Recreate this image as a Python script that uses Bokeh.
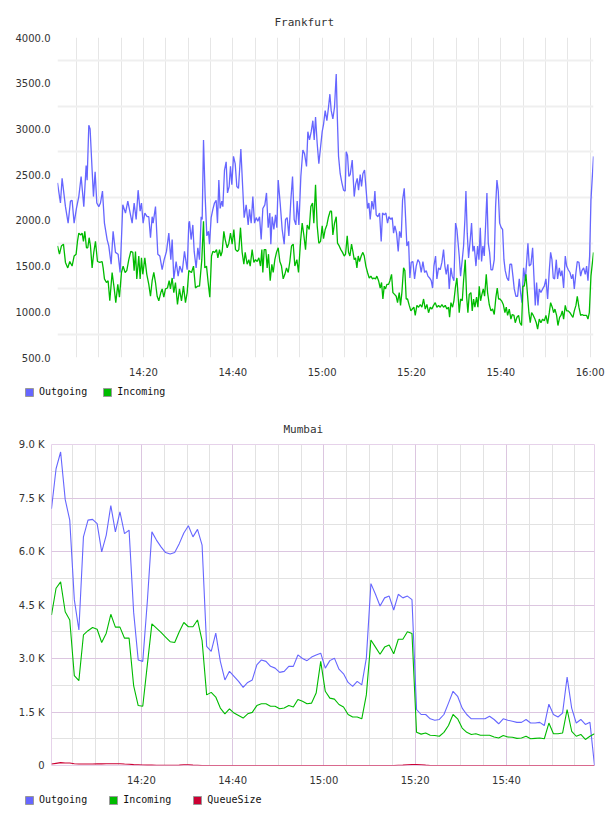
from datetime import datetime
from bokeh.plotting import figure
from bokeh.layouts import column
from bokeh.models import (FixedTicker, DatetimeTickFormatter, NumeralTickFormatter,
                          Legend, LegendItem, Range1d)
from bokeh.embed import file_html
from bokeh.resources import INLINE

# ---------------- time base (minutes after 14:00) ----------------
BASE_MS = (datetime(2013, 6, 3, 14, 0) - datetime(1970, 1, 1)).total_seconds() * 1000.0


def ms(minutes):
    return BASE_MS + minutes * 60000.0


# ---------------- Frankfurt data ----------------
fra_out_min = [0.75, 1.41, 1.78, 2.53, 3.13, 3.65, 4.02, 4.47, 4.99, 5.52, 6.04, 6.64, 7.16, 7.38, 7.76, 8.05, 8.50, 8.80, 9.17, 9.55,
               9.99, 10.37, 10.82, 11.26, 11.86, 12.23, 12.76, 13.20, 13.73, 14.32, 14.77, 15.37, 15.97, 16.49, 17.46, 17.91, 18.36, 18.80, 19.25, 19.55,
               19.92, 20.30, 20.82, 21.19, 21.57, 21.94, 22.16, 22.69, 23.21, 23.66, 24.18, 24.63, 25.15, 25.67, 26.12, 26.42, 26.79, 27.31, 27.76, 28.13,
               28.66, 29.18, 29.78, 30.15, 30.30, 30.67, 31.05, 31.35, 31.79, 32.17, 32.54, 32.91, 33.14, 33.44, 33.81, 34.18, 34.55, 34.78, 35.15, 35.53,
               35.90, 36.27, 36.57, 36.87, 37.17, 37.54, 37.77, 38.14, 38.51, 38.81, 39.18, 39.48, 39.78, 40.15, 40.53, 40.90, 41.27, 41.80, 42.24, 42.54,
               42.99, 43.44, 43.74, 44.11, 44.48, 44.86, 45.23, 45.60, 45.98, 46.35, 46.72, 47.17, 47.54, 47.92, 48.29, 48.51, 48.81, 49.19, 49.56, 49.86,
               50.16, 50.60, 51.05, 51.50, 51.80, 52.17, 52.55, 52.99, 53.37, 53.74, 54.11, 54.41, 54.79, 55.23, 55.68, 56.05, 56.50, 56.80, 57.17, 57.55,
               57.92, 58.22, 58.52, 58.89, 59.26, 59.64, 60.01, 60.31, 60.68, 61.06, 61.43, 61.73, 62.03, 62.40, 62.77, 63.15, 63.37, 63.67, 64.04, 64.42,
               64.79, 65.16, 65.39, 65.68, 65.98, 66.28, 66.73, 67.18, 67.48, 67.85, 68.15, 68.52, 68.82, 69.12, 69.49, 69.87, 70.16, 70.46, 70.76, 71.13,
               71.51, 71.81, 72.10, 72.48, 72.85, 73.22, 73.52, 73.90, 74.27, 74.64, 74.94, 75.39, 75.69, 75.99, 76.28, 76.66, 77.03, 77.33, 77.70, 78.00,
               78.38, 78.67, 78.97, 79.35, 79.64, 79.94, 80.32, 80.69, 81.06, 81.44, 81.81, 82.18, 82.56, 82.93, 83.30, 83.68, 84.05, 84.42, 84.72, 85.02,
               85.39, 85.69, 86.06, 86.44, 86.81, 87.18, 87.48, 87.78, 88.15, 88.45, 88.83, 89.12, 89.50, 89.87, 90.17, 90.69, 90.99, 91.37, 91.66, 91.96,
               92.19, 92.48, 92.78, 93.16, 93.45, 93.75, 94.05, 94.43, 94.80, 95.10, 95.40, 95.69, 95.99, 96.29, 96.59, 96.89, 97.19, 97.49, 97.79, 98.16,
               98.53, 98.83, 99.13, 99.43, 99.73, 100.10, 100.40, 100.70, 100.99, 101.37, 101.74, 102.04, 102.41, 102.71, 103.01, 103.38, 103.76, 104.13, 104.43, 104.73,
               105.10, 105.47, 105.77, 106.07, 106.37, 106.74, 107.12, 107.41, 107.71, 108.01, 108.31, 108.61, 108.98, 109.36, 109.73, 110.10, 110.48, 110.85, 111.15, 111.45,
               111.74, 112.04, 112.42, 112.71, 113.09, 113.39, 113.69, 114.06, 114.43, 114.73, 115.10, 115.48, 115.85, 116.15, 116.45, 116.82, 117.12, 117.49, 117.87, 118.16,
               118.54, 118.91, 119.21, 119.51, 119.88, 120.18, 120.75]
fra_out_val = [2410, 2190, 2460, 2150, 1970, 2210, 2220, 1970, 2130, 2260, 2480, 2150, 2600, 2440, 3040, 3000, 2550, 2260, 2530, 2190,
               2150, 2190, 2320, 1970, 1790, 1720, 1520, 1880, 1650, 1630, 1430, 2170, 2080, 2210, 1970, 2190, 2010, 2330, 2100, 2190,
               1970, 2080, 2040, 2040, 1810, 2040, 1970, 2150, 1630, 1610, 1460, 1570, 1660, 1860, 1570, 1790, 1360, 1550, 1390, 1500,
               1430, 1660, 1460, 1970, 1990, 1790, 1950, 1660, 1480, 1700, 1570, 2040, 2010, 2880, 2260, 1830, 1880, 1740, 2030, 2120,
               2190, 2220, 1970, 2440, 2130, 2210, 2150, 2550, 2640, 2300, 2370, 2590, 2390, 2700, 2620, 2370, 2350, 2780, 2330, 2030,
               2170, 1950, 2120, 1970, 2260, 1970, 2030, 1990, 2040, 1790, 2130, 2170, 2300, 1920, 2080, 1740, 2040, 1900, 2060, 1920,
               2440, 2190, 1900, 1740, 2010, 2030, 1830, 2220, 2480, 2010, 1950, 2210, 1950, 2480, 2770, 2730, 2590, 2970, 2880, 2970,
               3090, 2880, 3130, 2840, 2620, 2800, 2970, 3050, 3200, 3090, 3240, 3380, 3200, 3110, 3240, 3600, 3170, 2700, 2510, 2410,
               2330, 2320, 2750, 2710, 2480, 2500, 2660, 2260, 2390, 2460, 2330, 2500, 2370, 2510, 2550, 2320, 2130, 2190, 2010, 2210,
               2120, 2320, 2060, 2040, 2080, 1770, 2080, 2060, 2080, 1970, 2040, 2010, 2030, 1860, 1940, 1860, 1660, 1880, 1810, 2220,
               2350, 2040, 1720, 1770, 1370, 1540, 1550, 1360, 1500, 1570, 1540, 1430, 1550, 1430, 1450, 1390, 1370, 1340, 1260, 1500,
               1610, 1360, 1480, 1460, 1540, 1680, 1500, 1410, 1520, 1250, 1480, 1390, 1340, 1970, 1900, 1610, 1390, 1570, 1720, 2010,
               2320, 1860, 1590, 1790, 1970, 1660, 1720, 1500, 1720, 1570, 1920, 1550, 1720, 1610, 1940, 2300, 1750, 1650, 1460, 1460,
               1570, 2150, 2440, 2320, 1970, 1920, 1900, 1570, 1450, 1370, 1340, 1520, 1520, 1390, 1250, 1170, 1170, 1360, 1210, 1100,
               1480, 1340, 1540, 1750, 1500, 1520, 1700, 1390, 1070, 1320, 1070, 1250, 1210, 1250, 1280, 1360, 1140, 1450, 1650, 1570,
               1370, 1360, 1570, 1360, 1480, 1390, 1450, 1260, 1610, 1500, 1460, 1430, 1360, 1410, 1250, 1430, 1550, 1540, 1390, 1450,
               1480, 1410, 1500, 1340, 1610, 2220, 2700]

fra_in_min = [0.75, 1.19, 1.63, 2.08, 2.53, 3.05, 3.50, 4.02, 4.47, 4.92, 5.22, 5.52, 5.96, 6.26, 6.56, 6.86, 7.23, 7.53, 7.83, 8.13,
              8.50, 8.87, 9.25, 9.70, 10.22, 10.74, 10.97, 11.26, 11.71, 12.08, 12.46, 12.98, 13.43, 13.80, 14.25, 14.62, 15.07, 15.44, 15.89, 16.26,
              16.71, 17.16, 17.61, 17.91, 18.21, 18.50, 18.95, 19.25, 19.55, 19.85, 20.30, 20.74, 21.19, 21.57, 21.94, 22.31, 22.69, 23.06, 23.43, 23.88,
              24.18, 24.55, 24.92, 25.37, 25.75, 26.04, 26.42, 26.79, 27.16, 27.61, 28.06, 28.51, 28.95, 29.40, 29.78, 30.15, 30.75, 31.20, 31.64, 32.09,
              32.54, 33.06, 33.44, 33.73, 34.11, 34.48, 34.85, 35.23, 35.53, 35.97, 36.35, 36.65, 37.02, 37.32, 37.62, 37.99, 38.29, 38.74, 39.11, 39.48,
              39.86, 40.23, 40.60, 41.05, 41.35, 41.72, 42.09, 42.47, 42.77, 43.21, 43.59, 43.89, 44.33, 44.71, 45.08, 45.45, 45.83, 46.20, 46.50, 46.72,
              47.02, 47.39, 47.69, 47.99, 48.37, 48.74, 49.04, 49.41, 49.78, 50.16, 50.53, 50.90, 51.28, 51.65, 52.02, 52.40, 52.77, 53.14, 53.52, 53.89,
              54.34, 54.71, 55.16, 55.53, 55.90, 56.28, 56.65, 57.10, 57.47, 57.85, 58.14, 58.52, 58.89, 59.26, 59.64, 60.01, 60.31, 60.68, 61.06, 61.43,
              61.80, 62.10, 62.40, 62.77, 63.15, 63.44, 63.82, 64.19, 64.56, 64.94, 65.24, 65.61, 65.91, 66.21, 66.58, 66.88, 67.18, 67.48, 67.78, 68.07,
              68.37, 68.75, 69.12, 69.42, 69.79, 70.16, 70.54, 70.91, 71.28, 71.58, 71.96, 72.25, 72.63, 73.00, 73.30, 73.60, 73.90, 74.19, 74.49, 74.87,
              75.17, 75.54, 75.84, 76.21, 76.58, 76.88, 77.26, 77.55, 77.85, 78.23, 78.52, 78.82, 79.12, 79.50, 79.87, 80.17, 80.54, 80.84, 81.21, 81.59,
              81.96, 82.33, 82.71, 83.08, 83.45, 83.82, 84.20, 84.57, 84.94, 85.32, 85.69, 86.06, 86.44, 86.81, 87.18, 87.56, 87.93, 88.30, 88.53, 88.83,
              89.20, 89.50, 89.87, 90.17, 90.69, 90.99, 91.37, 91.66, 92.04, 92.34, 92.63, 92.93, 93.31, 93.60, 93.90, 94.20, 94.57, 94.87, 95.17, 95.47,
              95.77, 96.07, 96.37, 96.74, 97.04, 97.41, 97.79, 98.16, 98.53, 98.90, 99.20, 99.50, 99.80, 100.17, 100.55, 100.92, 101.22, 101.52, 101.89, 102.26,
              102.56, 102.94, 103.23, 103.61, 103.98, 104.28, 104.65, 104.95, 105.25, 105.62, 106.00, 106.29, 106.59, 106.89, 107.27, 107.64, 107.94, 108.24, 108.61, 108.98,
              109.36, 109.73, 110.10, 110.48, 110.85, 111.15, 111.52, 111.82, 112.12, 112.49, 112.79, 113.16, 113.46, 113.76, 114.06, 114.43, 114.73, 115.10, 115.48, 115.85,
              116.15, 116.45, 116.82, 117.12, 117.49, 117.87, 118.16, 118.54, 118.91, 119.21, 119.51, 119.81, 120.18, 120.75]
fra_in_val = [1720, 1630, 1720, 1740, 1540, 1480, 1550, 1500, 1610, 1630, 1770, 1860, 1840, 1860, 1770, 1880, 1700, 1700, 1810, 1720,
              1480, 1650, 1770, 1550, 1540, 1550, 1480, 1360, 1320, 1340, 1120, 1430, 1260, 1100, 1300, 1160, 1430, 1500, 1430, 1450,
              1570, 1660, 1650, 1450, 1660, 1360, 1610, 1360, 1590, 1410, 1590, 1410, 1300, 1170, 1340, 1430, 1320, 1170, 1120, 1210,
              1250, 1160, 1250, 1260, 1340, 1250, 1370, 1210, 1320, 1080, 1250, 1120, 1280, 1100, 1210, 1450, 1430, 1500, 1260, 1280,
              1280, 1570, 1990, 1480, 1500, 1320, 1160, 1610, 1660, 1650, 1680, 1590, 1680, 1610, 1660, 1880, 1790, 1700, 1750, 1860,
              1740, 1900, 1680, 1660, 1680, 1920, 1650, 1520, 1650, 1520, 1570, 1500, 1680, 1540, 1570, 1550, 1590, 1500, 1680, 1430,
              1680, 1680, 1480, 1630, 1340, 1520, 1430, 1570, 1650, 1700, 1550, 1500, 1360, 1410, 1480, 1430, 1550, 1720, 1740, 1500,
              1570, 1430, 1770, 1970, 1840, 1680, 1950, 1900, 2150, 2190, 1970, 2390, 1940, 1750, 1770, 1940, 1800, 1900, 1950, 2040,
              2100, 2100, 1840, 1970, 2040, 1750, 1720, 1680, 1650, 1610, 1630, 1830, 1650, 1610, 1740, 1660, 1570, 1590, 1480, 1610,
              1550, 1610, 1650, 1610, 1500, 1430, 1370, 1390, 1360, 1370, 1360, 1390, 1340, 1260, 1320, 1140, 1280, 1250, 1300, 1300,
              1340, 1410, 1210, 1190, 1170, 1100, 1210, 1070, 1210, 1480, 1450, 1140, 1140, 1070, 1010, 1030, 1050, 960, 1070, 1050,
              1080, 1050, 1140, 1030, 1080, 990, 1050, 1030, 1070, 1100, 1050, 1070, 1050, 1080, 1050, 1070, 1030, 1050, 940, 1100,
              1050, 1120, 1280, 1370, 990, 1140, 1120, 1340, 1570, 1170, 990, 1190, 1210, 1010, 1140, 1050, 1160, 1050, 1280, 1120,
              1190, 1250, 1170, 1410, 1210, 1080, 1010, 1030, 970, 1160, 1260, 1140, 1140, 1120, 1080, 990, 1050, 960, 1030, 920,
              970, 960, 880, 940, 960, 880, 850, 1280, 1280, 1410, 1170, 990, 880, 990, 960, 920, 880, 810, 920, 880,
              920, 900, 960, 870, 990, 1100, 1050, 990, 1030, 960, 850, 940, 960, 1010, 920, 1070, 1010, 1010, 990, 960,
              940, 1010, 1070, 1170, 1050, 960, 970, 960, 960, 960, 920, 990, 1390, 1650]

fra_y_ticks = [500, 1000, 1500, 2000, 2500, 3000, 3500, 4000]
fra_y_grid = [750, 1250, 1750, 2250, 2750, 3250, 3750]
fra_time_labels_min = [20, 40, 60, 80, 100, 120]
fra_time_grid_min = [5, 10, 15, 20, 25, 30, 35, 40, 45, 50, 55, 60, 65, 70, 75, 80, 85, 90, 95, 100, 105, 110, 115, 120]

# ---------------- Mumbai data (one sample per minute) ----------------
mum_start_min = 0.3
mum_step_min = 1.0
mum_out = [7200, 8320, 8790, 7460, 6880, 4650, 3800, 6410, 6880, 6900,
           6780, 5990, 6460, 7290, 6550, 7110, 6500, 6600, 4300, 2960,
           2920, 4600, 6550, 6320, 6130, 5970, 5930, 5970, 6220, 6520,
           6720, 6410, 6620, 6180, 3340, 3200, 3710, 2920, 2400, 2640,
           2500, 2360, 2190, 2330, 2400, 2820, 2960, 2920, 2780, 2730,
           2610, 2640, 2780, 2780, 3100, 3000, 2940, 3040, 3100, 3150,
           2730, 2940, 3010, 2700, 2570, 2330, 2220, 2360, 2260, 3010,
           5100, 4800, 4470, 4700, 4750, 4360, 4800, 4700, 4750, 4650,
           1570, 1430, 1430, 1310, 1270, 1290, 1430, 1750, 2080, 1940,
           1610, 1430, 1310, 1310, 1310, 1310, 1380, 1290, 1170, 1310,
           1270, 1240, 1210, 1210, 1290, 1190, 1190, 1210, 1120, 1720,
           1430, 1360, 1470, 2480, 1610, 1190, 1290, 1150, 1210, 0]
mum_in = [4220, 4970, 5150, 4310, 4080, 2520, 2380, 3660, 3780, 3870,
          3820, 3450, 3710, 4240, 3880, 3880, 3570, 3570, 2240, 1680,
          1660, 2820, 3970, 3850, 3730, 3600, 3470, 3450, 3750, 4010,
          3890, 3890, 4080, 3500, 1980, 2050, 1920, 1610, 1450, 1590,
          1470, 1400, 1330, 1450, 1490, 1680, 1730, 1730, 1660, 1660,
          1590, 1610, 1680, 1640, 1850, 1800, 1730, 1750, 2030, 2920,
          2080, 1890, 1860, 1710, 1640, 1430, 1360, 1360, 1310, 1980,
          3520, 3320, 3120, 3320, 3380, 3130, 3540, 3540, 3750, 3700,
          930, 880, 910, 850, 840, 820, 930, 1120, 1430, 1310,
          1050, 930, 870, 890, 850, 850, 850, 800, 770, 840,
          800, 790, 760, 770, 820, 750, 760, 770, 750, 1190,
          890, 890, 910, 1570, 960, 820, 870, 730, 820, 890]
mum_queue = [40, 60, 80, 70, 70, 50, 40, 40, 40, 40,
             45, 45, 50, 50, 50, 50, 40, 35, 25, 20,
             15, 10, 10, 5, 5, 5, 5, 5, 10, 20,
             20, 10, 5, 0, 0, 0, 0, 0, 0, 0,
             0, 0, 0, 0, 0, 0, 0, 0, 0, 0,
             0, 0, 0, 0, 0, 0, 0, 0, 0, 0,
             0, 0, 0, 0, 0, 0, 0, 0, 0, 0,
             0, 0, 0, 0, 0, 0, 5, 10, 20, 30,
             30, 20, 10, 0, 0, 0, 0, 0, 0, 0,
             0, 0, 0, 0, 0, 0, 0, 0, 0, 0,
             0, 0, 0, 0, 0, 0, 0, 0, 0, 0,
             0, 0, 0, 0, 0, 0, 0, 0, 0, 0]

mum_y_ticks = [0, 1500, 3000, 4500, 6000, 7500, 9000]
mum_y_labels = ["0", "1.5 K", "3.0 K", "4.5 K", "6.0 K", "7.5 K", "9.0 K"]
mum_y_minor = [750, 2250, 3750, 5250, 6750, 8250]
mum_time_labels_min = [20, 40, 60, 80, 100]
mum_time_minor_min = [5, 10, 15, 25, 30, 35, 45, 50, 55, 65, 70, 75, 85, 90, 95, 105, 110, 115]

# ---------------- style ----------------
C_OUT = "#6666ff"
C_IN = "#00bb00"
C_Q = "#cc0033"
TICK_FONT = "DejaVu Sans"
MONO = "DejaVu Sans Mono"
TEXT = "#333333"
NAN = float("nan")


def style_axes(p):
    for ax in (p.xaxis[0], p.yaxis[0]):
        ax.axis_line_color = None
        ax.major_tick_line_color = None
        ax.minor_tick_line_color = None
        ax.major_tick_out = 0
        ax.major_tick_in = 0
        ax.minor_tick_out = 0
        ax.major_label_text_font = TICK_FONT
        ax.major_label_text_font_size = "10px"
        ax.major_label_text_color = TEXT
    p.xaxis[0].major_label_standoff = 9
    p.yaxis[0].major_label_standoff = 7
    p.xaxis[0].formatter = DatetimeTickFormatter(minutes="%H:%M", hourmin="%H:%M", hours="%H:%M",
                                                 minsec="%H:%M", seconds="%H:%M")


def style_title(p, text, offset):
    p.title.text = text
    p.title.align = "left"
    p.title.offset = offset
    p.title.text_font = MONO
    p.title.text_font_size = "11px"
    p.title.text_font_style = "normal"
    p.title.text_color = TEXT
    p.title.standoff = 18


def legend_strip(names, colors, spacing):
    s = figure(width=608, height=28, output_backend="svg", toolbar_location=None,
               x_axis_location=None, y_axis_location=None, frame_align=False,
               min_border_left=0, min_border_right=0, min_border_top=0, min_border_bottom=0,
               x_range=Range1d(0, 1), y_range=Range1d(0, 1))
    s.outline_line_color = None
    s.xgrid.visible = False
    s.ygrid.visible = False
    items = []
    for name, col in zip(names, colors):
        q = s.quad(left=[NAN], right=[NAN], top=[NAN], bottom=[NAN],
                   fill_color=col, line_color="#999999", line_width=1)
        items.append(LegendItem(label=name, renderers=[q]))
    leg = Legend(items=items, orientation="horizontal", location=(24, 11), padding=0, margin=0,
                 spacing=spacing, glyph_width=10, glyph_height=10, label_standoff=5,
                 label_text_font=MONO, label_text_font_size="10px", label_text_color="#111111",
                 label_height=10, label_width=10, border_line_color=None, background_fill_alpha=0)
    s.add_layout(leg)
    return s


# ---------------- Frankfurt figure ----------------
p1 = figure(width=608, height=380, x_axis_type="datetime", output_backend="svg", toolbar_location=None,
            frame_align=False,
            min_border_left=57, min_border_right=15, min_border_top=37, min_border_bottom=22,
            x_range=Range1d(ms(fra_out_min[0]), ms(fra_out_min[-1])), y_range=Range1d(500, 4000))
p1.outline_line_color = None
style_title(p1, "Frankfurt", 217)
style_axes(p1)
p1.xaxis[0].ticker = FixedTicker(ticks=[ms(m) for m in fra_time_labels_min])
p1.yaxis[0].ticker = FixedTicker(ticks=fra_y_ticks)
p1.yaxis[0].formatter = NumeralTickFormatter(format="0.0")
p1.xgrid.ticker = FixedTicker(ticks=[ms(m) for m in fra_time_grid_min])
p1.xgrid.grid_line_color = "#e6e6e6"
p1.xgrid.grid_line_width = 1
p1.ygrid.ticker = FixedTicker(ticks=fra_y_grid)
p1.ygrid.grid_line_color = "#efefef"
p1.ygrid.grid_line_width = 2

p1.line([ms(m) for m in fra_out_min], fra_out_val, line_color=C_OUT, line_width=1.3)
p1.line([ms(m) for m in fra_in_min], fra_in_val, line_color=C_IN, line_width=1.3)
leg1 = legend_strip(["Outgoing", "Incoming"], [C_OUT, C_IN], 15)

# ---------------- Mumbai figure ----------------
mum_x_out = [ms(mum_start_min + i * mum_step_min) for i in range(len(mum_out))]
mum_x_in = [ms(mum_start_min + i * mum_step_min) for i in range(len(mum_in))]
mum_x_q = [ms(mum_start_min + i * mum_step_min) for i in range(len(mum_queue))]

p2 = figure(width=608, height=380, x_axis_type="datetime", output_backend="svg", toolbar_location=None,
            frame_align=False,
            min_border_left=51, min_border_right=14, min_border_top=36, min_border_bottom=22,
            x_range=Range1d(mum_x_out[0], mum_x_out[-1]), y_range=Range1d(0, 9000))
p2.outline_line_color = "#e6d2ea"
style_title(p2, "Mumbai", 232)
style_axes(p2)
p2.xaxis[0].ticker = FixedTicker(ticks=[ms(m) for m in mum_time_labels_min],
                                 minor_ticks=[ms(m) for m in mum_time_minor_min])
p2.yaxis[0].ticker = FixedTicker(ticks=mum_y_ticks, minor_ticks=mum_y_minor)
p2.yaxis[0].major_label_overrides = dict(zip(mum_y_ticks, mum_y_labels))
for g in (p2.xgrid, p2.ygrid):
    g.grid_line_color = "#dcc6e0"
    g.grid_line_width = 1
    g.minor_grid_line_color = "#e2e2e2"
    g.minor_grid_line_width = 1

p2.line(mum_x_out, mum_out, line_color=C_OUT, line_width=1.1)
p2.line(mum_x_in, mum_in, line_color=C_IN, line_width=1.1)
p2.line(mum_x_q, mum_queue, line_color=C_Q, line_width=1.1)
leg2 = legend_strip(["Outgoing", "Incoming", "QueueSize"], [C_OUT, C_IN, C_Q], 21)

layout = column(p1, leg1, p2, leg2, spacing=0)
open("out.html", "w").write(file_html(layout, INLINE))
